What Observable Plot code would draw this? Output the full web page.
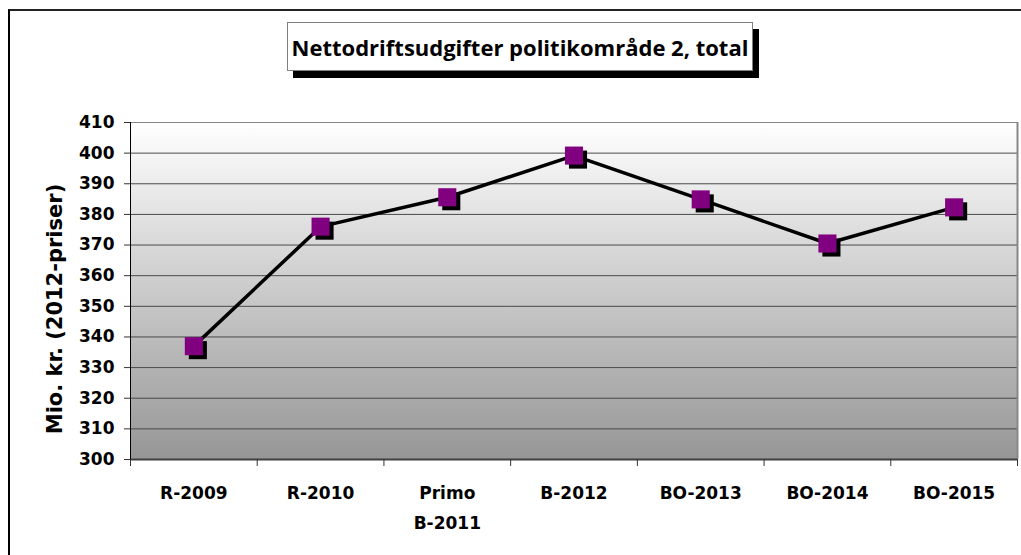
<!DOCTYPE html>
<html><head><meta charset="utf-8">
<script src="https://cdn.jsdelivr.net/npm/d3@7"></script>
<script src="https://cdn.jsdelivr.net/npm/@observablehq/plot@0.6"></script>
<style>
html,body{margin:0;padding:0;background:#fff;}
#wrap{position:relative;width:1021px;height:555px;overflow:hidden;}
#frame{position:absolute;left:8px;top:9px;right:-10px;bottom:-10px;border-top:2px solid #222;border-left:2px solid #000;}
#chart{position:absolute;left:0;top:0;}
#title{position:absolute;left:287px;top:22px;width:464px;height:47px;border:1px solid #808080;background:#fff;box-shadow:6px 7px 0 #000;font-family:"Open Sans";font-weight:bold;font-size:22px;color:#000;display:flex;align-items:center;justify-content:center;white-space:nowrap;}
#ylabel{position:absolute;left:55px;top:309px;transform:translate(-50%,-50%) rotate(-90deg);font-family:"DejaVu Sans";font-weight:bold;font-size:21px;color:#000;white-space:nowrap;}
</style></head>
<body>
<div id="wrap"><div id="frame"></div><div id="chart"></div><div id="title"></div><div id="ylabel"></div></div>
<script>
const titleText = "Nettodriftsudgifter politikområde 2, total";
const yLabel = "Mio. kr. (2012-priser)";
const categories = ["R-2009", "R-2010", "Primo\nB-2011", "B-2012", "BO-2013", "BO-2014", "BO-2015"];
const values = [337, 376, 385.6, 399.2, 384.9, 370.5, 382.3];
const yTicks = [300, 310, 320, 330, 340, 350, 360, 370, 380, 390, 400, 410];

document.getElementById("title").textContent = titleText;
document.getElementById("ylabel").textContent = yLabel;

const data = categories.map((c, i) => ({i, c, v: values[i]}));
const boundaries = d3.range(categories.length + 1).map(k => k - 0.5);
const centers = d3.range(categories.length);

const gradientDefs = () => {
  const defs = d3.create("svg:defs");
  const g = defs.append("linearGradient").attr("id", "bgGrad").attr("x1", 0).attr("y1", 0).attr("x2", 0).attr("y2", 1);
  g.append("stop").attr("offset", "0%").attr("stop-color", "#ffffff");
  g.append("stop").attr("offset", "100%").attr("stop-color", "#969696");
  return defs.node();
};

const plot = Plot.plot({
  width: 1021,
  height: 555,
  marginTop: 122,
  marginBottom: 96,
  marginLeft: 130,
  marginRight: 4,
  style: {fontFamily: "DejaVu Sans", fontWeight: "bold", fontSize: "17px", background: "transparent", color: "#000"},
  x: {type: "linear", domain: [-0.5, categories.length - 0.5], label: null},
  y: {domain: [300, 410], label: null},
  marks: [
    gradientDefs,
    Plot.frame({fill: "url(#bgGrad)", stroke: null}),
    Plot.gridY(yTicks.slice(1, -1), {stroke: "#4a4a4a", strokeOpacity: 1, strokeWidth: 1}),
    Plot.ruleY([410], {stroke: "#888", strokeWidth: 1}),
    Plot.ruleX([categories.length - 0.5], {stroke: "#888", strokeWidth: 2}),
    Plot.ruleY([300], {stroke: "#404040", strokeWidth: 2}),
    Plot.ruleX([-0.5], {stroke: "#000", strokeWidth: 1}),
    Plot.axisY({ticks: yTicks, tickSize: 6, tickPadding: 10, label: null, stroke: "#333", fontSize: 17, fontWeight: "bold", fill: "#000"}),
    Plot.axisX({ticks: boundaries, tickSize: 7, tickFormat: () => "", label: null, stroke: "#333"}),
    Plot.axisX({ticks: centers, tickSize: 0, tickPadding: 18, tickFormat: i => categories[i], lineHeight: 1.76, label: null, fontSize: 17, fontWeight: "bold", fill: "#000"}),
    Plot.line(data, {x: "i", y: "v", stroke: "#000", strokeWidth: 3.5}),
    Plot.dot(data, {x: "i", y: "v", symbol: "square", r: 10.2, fill: "#000", dx: 4, dy: 4}),
    Plot.dot(data, {x: "i", y: "v", symbol: "square", r: 10.2, fill: "#800080"})
  ]
});
document.getElementById("chart").appendChild(plot);
</script>
</body></html>
